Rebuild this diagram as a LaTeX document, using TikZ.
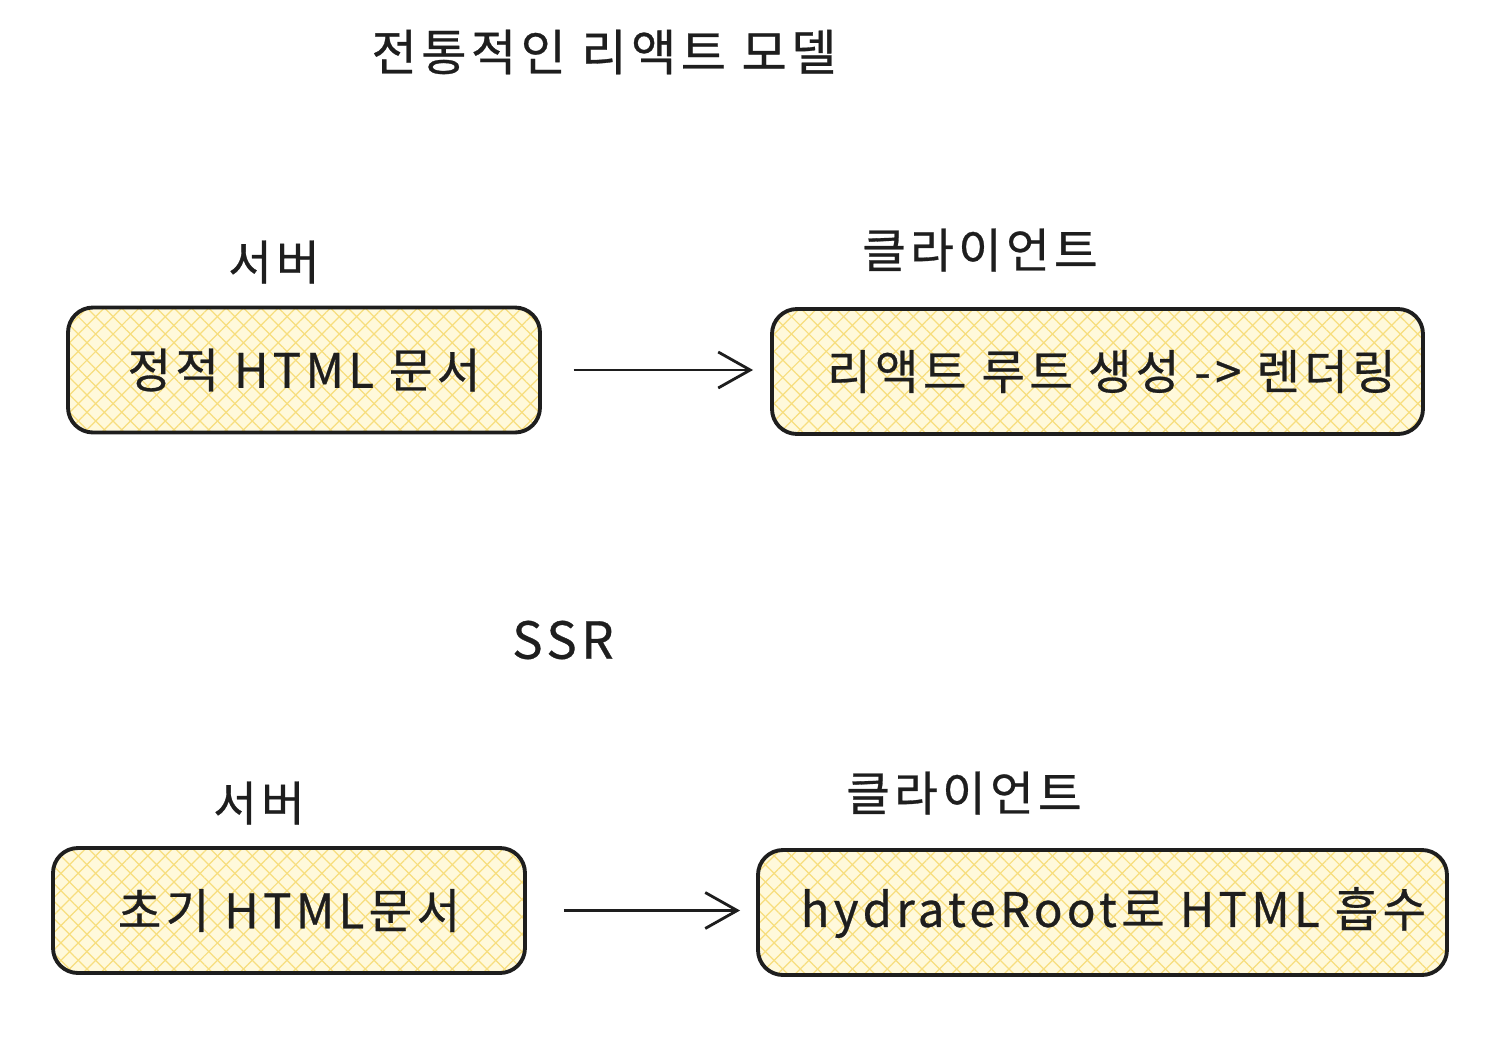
\documentclass[tikz,border=0pt]{standalone}
\usepackage{fontspec}
\setmainfont{Noto Sans CJK KR}[LetterSpace=9,FakeBold=0.6]
\usepackage{xcolor}
\usepackage{tikz}
\usetikzlibrary{arrows.meta,patterns.meta}
\definecolor{ink}{HTML}{1e1e1e}
\definecolor{boxfill}{HTML}{FFF9DB}
\definecolor{hatch}{HTML}{F7DE7E}

\begin{document}
\begin{tikzpicture}[
  docbox/.style={draw=ink, line width=1.1pt, rounded corners=0.25cm,
    preaction={fill=boxfill},
    preaction={pattern={Lines[angle=45,distance=3.5pt,line width=0.35pt]}, pattern color=hatch},
    pattern={Lines[angle=-45,distance=3.5pt,line width=0.35pt]}, pattern color=hatch,
    minimum height=1.25cm, font=\fontsize{13.5}{15}\selectfont, text=ink},
  sidelabel/.style={text=ink, font=\fontsize{13.5}{15}\selectfont},
  flow/.style={draw=ink, line width=0.8pt, -{Straight Barb[length=3.2mm,width=3.6mm]}}
]
\useasboundingbox (0,0) rectangle (15,-10.56);
% titles
\node[sidelabel, font=\fontsize{14}{16}\selectfont] (title) at (6.04,-0.52) {전통적인 리액트 모델};
\node[sidelabel, font=\fontsize{14.5}{16}\selectfont] (ssr) at (5.63,-6.40) {SSR};
% traditional model
\node[sidelabel] (server1) at (2.74,-2.62) {서버};
\node[sidelabel] (client1) at (9.80,-2.50) {클라이언트};
\node[docbox, minimum width=4.72cm] (static) at (3.04,-3.70) {정적 HTML 문서\hspace{0.08cm}};
\node[docbox, minimum width=6.51cm] (render) at (10.975,-3.715) {\hspace{0.28cm}리액트 루트 생성 -> 렌더링};
\draw[flow, shorten <=0.33cm, shorten >=0.17cm] (static.east) -- (static.east -| render.west);
% ssr model
\node[sidelabel] (server2) at (2.59,-8.03) {서버};
\node[sidelabel] (client2) at (9.64,-7.93) {클라이언트};
\node[docbox, minimum width=4.72cm] (initial) at (2.89,-9.105) {초기 HTML문서\hspace{0.24cm}};
\node[docbox, minimum width=6.89cm] (hydrate) at (11.025,-9.125) {\hspace{0.22cm}hydrateRoot로 HTML 흡수};
\draw[flow, shorten <=0.37cm, shorten >=0.16cm] (initial.east) -- (initial.east -| hydrate.west);
\end{tikzpicture}
\end{document}
